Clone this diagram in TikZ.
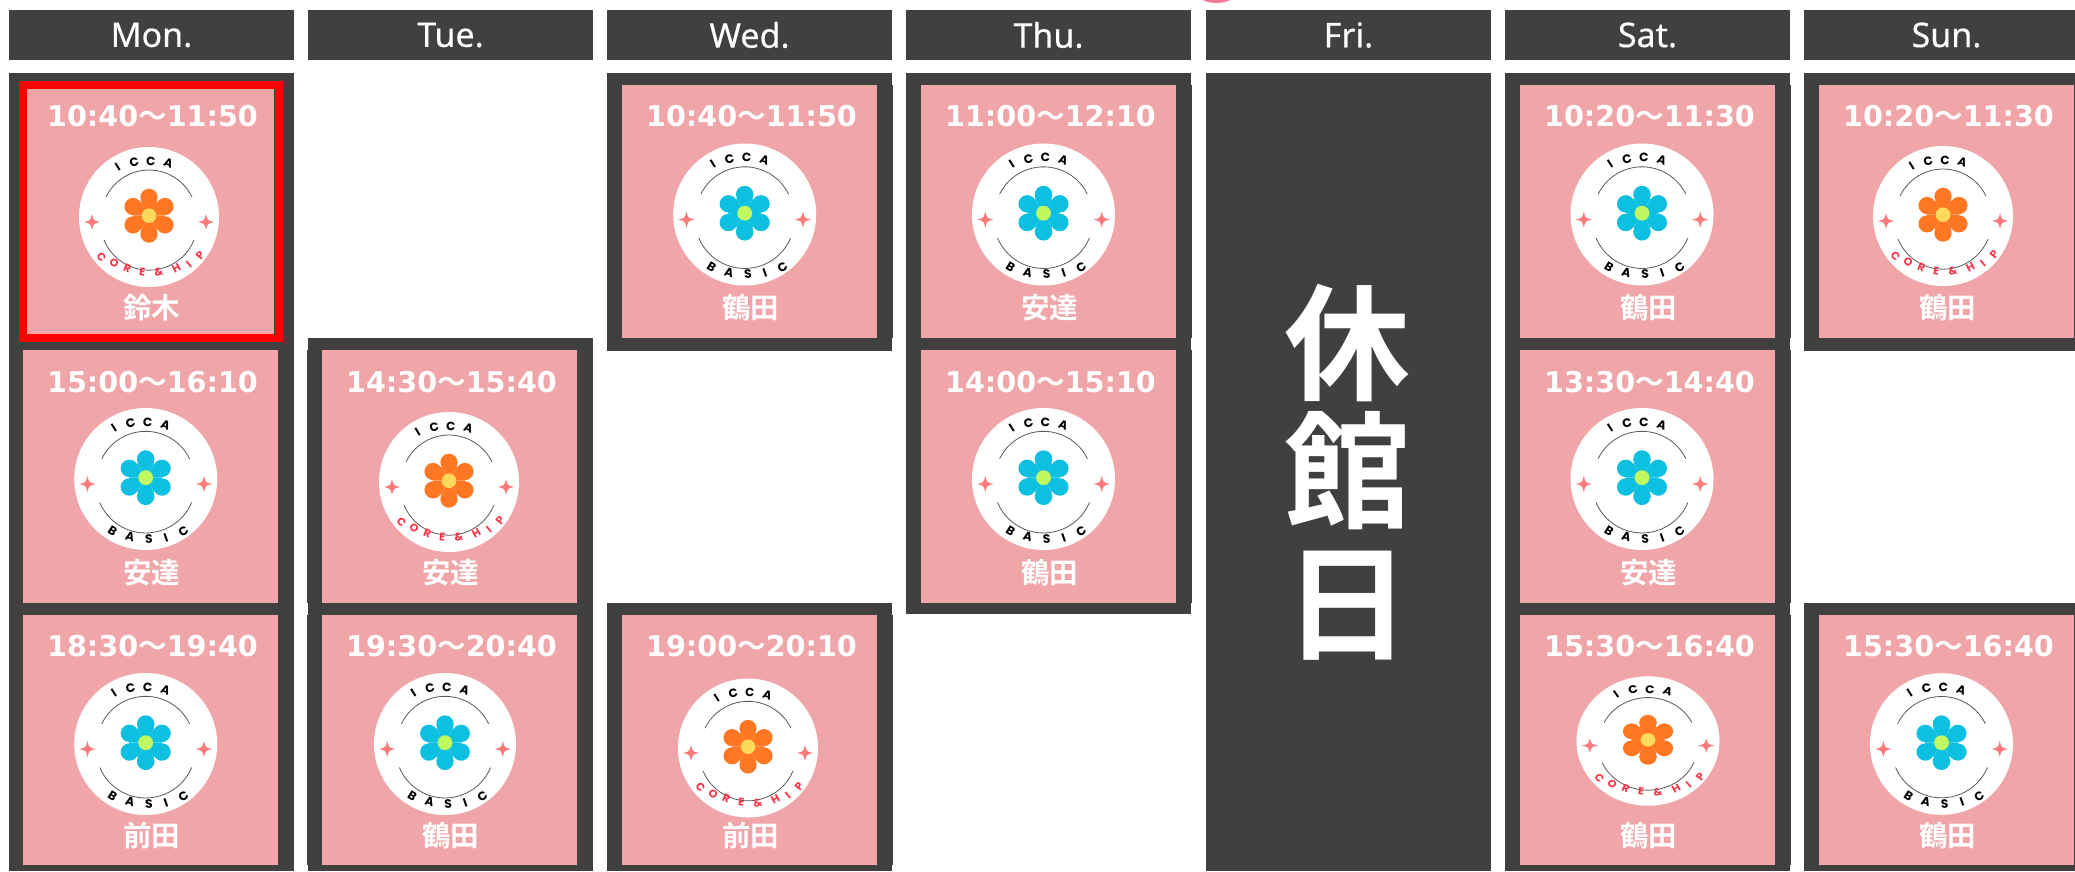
\documentclass[tikz,border=0pt]{standalone}
\usepackage{fontspec}
\setmainfont{Noto Sans}[FakeBold=0.35]
\newfontfamily\jpf{Noto Sans CJK JP}[BoldFont={Noto Sans CJK JP Bold}]
\newfontfamily\timef{DejaVu Sans}
\newfontfamily\logof{Poppins}
\definecolor{dk}{HTML}{404040}
\definecolor{pk}{HTML}{F0A5A9}
\definecolor{petalO}{HTML}{FF7722}
\definecolor{coreO}{HTML}{FFD95A}
\definecolor{petalB}{HTML}{0DBFE0}
\definecolor{coreB}{HTML}{C0F85F}
\definecolor{starc}{HTML}{FB7A7A}
\definecolor{redt}{HTML}{FF3347}
\definecolor{blob}{HTML}{F47C98}
\usetikzlibrary{calc}
\tikzset{
  headtxt/.style={text=white,inner sep=0pt,font=\fontsize{34}{34}\selectfont},
  timetxt/.style={text=white,inner sep=0pt,font=\timef\bfseries\fontsize{28.6}{29}\selectfont},
  nametxt/.style={text=white,inner sep=0pt,font=\jpf\bfseries\fontsize{28.5}{29}\selectfont},
  bigtxt/.style={text=white,inner sep=0pt,font=\jpf\bfseries\fontsize{126}{126}\selectfont},
  lettA/.style={inner sep=0pt,text=black,font=\logof\bfseries\fontsize{12}{12}\selectfont},
  lettR/.style={inner sep=0pt,text=redt,font=\logof\bfseries\fontsize{11}{11}\selectfont},
  arcline/.style={draw=black!65,line width=0.8pt},
}
\newcommand\headbar[2]{\fill[dk] (#1,10) rectangle ++(285,50);
  \node[headtxt] at ($(#1,35)+(142.5,0)$) {#2};}
\newcommand\sparkle[2]{\fill[starc] (#1,#2+8) .. controls (#1+1.5,#2+1.5) .. (#1+8,#2) .. controls (#1+1.5,#2-1.5) .. (#1,#2-8) .. controls (#1-1.5,#2-1.5) .. (#1-8,#2) .. controls (#1-1.5,#2+1.5) .. cycle;}
\newcommand\letter[5][lettA]{\node[#1,rotate=#5] at (#2:#3) {#4};}
% lx ly rx ry type(0 core,1 basic)
\newcommand\logo[5]{%
\begin{scope}[shift={(#1,#2)},x={(1pt,0pt)},y={(0pt,1pt)},xscale=#3/70,yscale=#4/70,transform shape]
  \fill[white] (0,0) circle[radius=70pt];
  \ifnum#5=0 \colorlet{pt}{petalO}\colorlet{ct}{coreO}\else\colorlet{pt}{petalB}\colorlet{ct}{coreB}\fi
  \begin{scope}[shift={(0,1.3)}]
  \foreach \a in {90,150,210,270,330,30}{
    \fill[pt,rotate=\a] (0,0) -- (14,-8) -- (19,0) -- (14,8) -- cycle;
    \fill[pt] (\a:18.4) circle[radius=8.6pt];}
  \fill[ct] (0,0) circle[radius=7.3pt];
  \end{scope}
  \draw[arcline] (25.7:47.7) ++(0,-0.7) arc[start angle=25.7,end angle=154.3,radius=47.7pt];
  \draw[arcline] (-22.6:48.7) ++(0,-4.5) arc[start angle=-22.6,end angle=-157.4,radius=48.7pt];
  \sparkle{-57}{-5}\sparkle{57}{-5}
  \letter{122}{59}{I}{32}\letter{105}{57}{C}{15}\letter{88}{56}{C}{-2}\letter{70}{57}{A}{-20}
  \ifnum#5=0
    \letter[lettR]{-140}{62}{C}{-50}\letter[lettR]{-127}{58}{O}{-37}\letter[lettR]{-113}{55.5}{R}{-23}\letter[lettR]{-97}{55}{E}{-7}
    \letter[lettR]{-80}{56}{\&}{10}\letter[lettR]{-62}{58.5}{H}{28}\letter[lettR]{-50}{62}{I}{40}\letter[lettR]{-37}{64}{P}{53}
  \else
    \letter{-122}{61}{B}{-32}\letter{-105}{59}{A}{-15}\letter{-87}{59}{S}{3}\letter{-71}{61}{I}{19}\letter{-54.5}{63.5}{C}{35}
  \fi
\end{scope}}
% column settings: \xo band left, \po pink inset, \nl \nr notches
\newcommand\col[4]{\def\xo{#1}\def\po{#2}\def\nl{#3}\def\nr{#4}}
% row from-to name lx ly rx ry type
\newcommand\cell[8]{%
  \ifcase#1\or\def\ptop{85}\def\pbot{338}\def\ty{116}\def\ny{308}%
  \or\def\ptop{350}\def\pbot{603}\def\ty{382}\def\ny{573}%
  \or\def\ptop{615}\def\pbot{865}\def\ty{646}\def\ny{836}\fi
  \fill[dk] (\xo-\nl,\ptop) rectangle (\xo+285+\nr,\pbot);
  \fill[pk] (\xo+\po,\ptop) rectangle (\xo+\po+255,\pbot);
  \node[timetxt] at ($(\xo,\ty)+(\po+129.5,0)$) {#2};
  \node[nametxt] at ($(\xo,\ny)+(\po+128.5,0)$) {#3};
  \logo{#4}{#5}{#6}{#7}{#8}}
\newcommand\tm[2]{#1{\jpf\bfseries ～}#2}
\begin{document}
\begin{tikzpicture}[x=1pt,y=-1pt]
\useasboundingbox (0,0) rectangle (2075,871);
\clip (0,0) rectangle (2075,871);
\fill[white] (0,0) rectangle (2075,871);
\fill[blob] (1216.5,-6) ellipse[x radius=18.5pt,y radius=9pt];
\headbar{9}{Mon.}\headbar{308}{Tue.}\headbar{607}{Wed.}\headbar{906}{Thu.}\headbar{1206}{Fri.}\headbar{1505}{Sat.}\headbar{1804}{Sun.}
% dark columns
\fill[dk] (9,73) rectangle (294,871);
\fill[dk] (308,338) rectangle (593,871);
\fill[dk] (607,73) rectangle (892,351);
\fill[dk] (607,603) rectangle (892,871);
\fill[dk] (906,73) rectangle (1191,614);
\fill[dk] (1206,73) rectangle (1491,871);
\fill[dk] (1505,73) rectangle (1790,871);
\fill[dk] (1804,73) rectangle (2089,351);
\fill[dk] (1804,603) rectangle (2089,871);
% Mon
\col{9}{14}{0}{0}
\cell{2}{\tm{15:00}{16:10}}{安達}{145.7}{479}{71.5}{71}{1}
\cell{3}{\tm{18:30}{19:40}}{前田}{145.7}{744}{71.5}{71}{1}
% red frame
\draw[red,line width=8pt] (23,85) rectangle (279,338);
\fill[pk] (27,89) rectangle (274,334);
\node[timetxt] at (152.5,116) {\tm{10:40}{11:50}};
\node[nametxt] at (151.5,308) {鈴木};
\logo{149}{217}{70}{70}{0}
% Tue
\col{308}{14}{1}{0}
\cell{2}{\tm{14:30}{15:40}}{安達}{449}{482}{70}{70}{0}
\cell{3}{\tm{19:30}{20:40}}{鶴田}{445}{744}{71}{71}{1}
% Wed
\col{607}{15}{0}{1}
\cell{1}{\tm{10:40}{11:50}}{鶴田}{744.7}{214.5}{71.5}{71}{1}
\cell{3}{\tm{19:00}{20:10}}{前田}{748}{748}{70}{69.5}{0}
% Thu
\col{906}{15}{0}{1}
\cell{1}{\tm{11:00}{12:10}}{安達}{1043.5}{214.5}{71.5}{71}{1}
\cell{2}{\tm{14:00}{15:10}}{鶴田}{1043.5}{479}{71.5}{71}{1}
% Fri
\node[bigtxt] at (1347,343) {休};
\node[bigtxt] at (1347,471) {館};
\node[bigtxt] at (1347,606) {日};
% Sat
\col{1505}{15}{0}{1}
\cell{1}{\tm{10:20}{11:30}}{鶴田}{1642}{214.5}{71.5}{71}{1}
\cell{2}{\tm{13:30}{14:40}}{安達}{1642}{479}{71.5}{71}{1}
\cell{3}{\tm{15:30}{16:40}}{鶴田}{1648}{741}{71.5}{64.7}{0}
% Sun
\col{1804}{15}{0}{0}
\cell{1}{\tm{10:20}{11:30}}{鶴田}{1943}{216}{70}{70}{0}
\cell{3}{\tm{15:30}{16:40}}{鶴田}{1941.5}{744}{71.5}{70.8}{1}
\end{tikzpicture}
\end{document}
